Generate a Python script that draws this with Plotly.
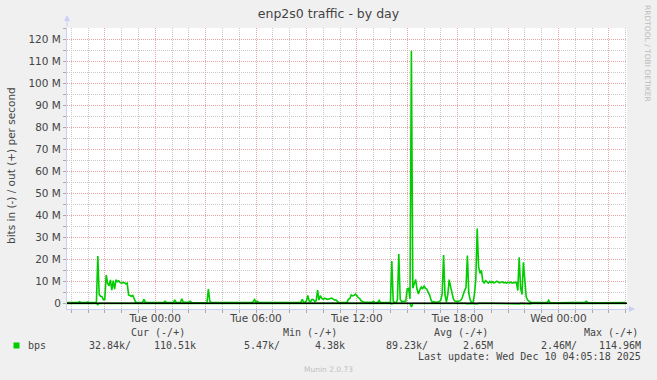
import plotly.graph_objects as go

# ---------------- data ----------------
out_times = [
    "2025-12-08 18:45", "2025-12-08 18:55", "2025-12-08 19:10", "2025-12-08 19:25", "2025-12-08 19:30",
    "2025-12-08 19:35", "2025-12-08 19:50", "2025-12-08 19:55", "2025-12-08 20:00", "2025-12-08 20:05",
    "2025-12-08 20:25", "2025-12-08 20:30", "2025-12-08 20:35", "2025-12-08 20:40", "2025-12-08 20:45",
    "2025-12-08 20:50", "2025-12-08 20:55", "2025-12-08 21:00", "2025-12-08 21:05", "2025-12-08 21:10",
    "2025-12-08 21:15", "2025-12-08 21:20", "2025-12-08 21:25", "2025-12-08 21:30", "2025-12-08 21:35",
    "2025-12-08 21:40", "2025-12-08 21:45", "2025-12-08 21:50", "2025-12-08 21:55", "2025-12-08 22:00",
    "2025-12-08 22:05", "2025-12-08 22:10", "2025-12-08 22:15", "2025-12-08 22:20", "2025-12-08 22:25",
    "2025-12-08 22:30", "2025-12-08 22:35", "2025-12-08 22:40", "2025-12-08 22:45", "2025-12-08 22:50",
    "2025-12-08 22:55", "2025-12-08 23:10", "2025-12-08 23:15", "2025-12-08 23:20", "2025-12-08 23:25",
    "2025-12-08 23:40",
    "2025-12-09 00:00", "2025-12-09 00:20", "2025-12-09 00:30", "2025-12-09 00:35", "2025-12-09 00:40",
    "2025-12-09 00:55", "2025-12-09 01:05", "2025-12-09 01:10", "2025-12-09 01:15", "2025-12-09 01:30",
    "2025-12-09 01:35", "2025-12-09 01:40", "2025-12-09 01:50", "2025-12-09 02:00", "2025-12-09 02:05",
    "2025-12-09 02:10", "2025-12-09 02:45", "2025-12-09 03:00", "2025-12-09 03:05", "2025-12-09 03:10",
    "2025-12-09 03:15", "2025-12-09 03:20", "2025-12-09 04:00", "2025-12-09 04:30", "2025-12-09 05:00",
    "2025-12-09 05:30", "2025-12-09 05:45", "2025-12-09 05:50", "2025-12-09 05:55", "2025-12-09 06:00",
    "2025-12-09 06:05", "2025-12-09 06:10", "2025-12-09 06:45", "2025-12-09 07:30", "2025-12-09 08:15",
    "2025-12-09 08:35", "2025-12-09 08:40", "2025-12-09 08:45", "2025-12-09 08:50", "2025-12-09 08:55",
    "2025-12-09 09:00", "2025-12-09 09:05", "2025-12-09 09:10", "2025-12-09 09:15", "2025-12-09 09:20",
    "2025-12-09 09:25", "2025-12-09 09:30", "2025-12-09 09:35", "2025-12-09 09:40", "2025-12-09 09:45",
    "2025-12-09 09:50", "2025-12-09 09:55", "2025-12-09 10:00", "2025-12-09 10:05", "2025-12-09 10:10",
    "2025-12-09 10:15", "2025-12-09 10:20", "2025-12-09 10:30", "2025-12-09 10:35", "2025-12-09 10:40",
    "2025-12-09 10:45", "2025-12-09 10:50", "2025-12-09 10:55", "2025-12-09 11:15", "2025-12-09 11:25",
    "2025-12-09 11:30", "2025-12-09 11:35", "2025-12-09 11:40", "2025-12-09 11:45", "2025-12-09 11:50",
    "2025-12-09 11:55", "2025-12-09 12:00", "2025-12-09 12:05", "2025-12-09 12:10", "2025-12-09 12:15",
    "2025-12-09 12:25", "2025-12-09 12:40", "2025-12-09 12:55", "2025-12-09 13:00", "2025-12-09 13:05",
    "2025-12-09 13:15", "2025-12-09 13:20", "2025-12-09 13:25", "2025-12-09 13:45", "2025-12-09 13:50",
    "2025-12-09 13:55", "2025-12-09 14:00", "2025-12-09 14:05", "2025-12-09 14:10", "2025-12-09 14:15",
    "2025-12-09 14:20", "2025-12-09 14:25", "2025-12-09 14:30", "2025-12-09 14:35", "2025-12-09 14:40",
    "2025-12-09 14:45", "2025-12-09 14:50", "2025-12-09 14:55", "2025-12-09 15:00", "2025-12-09 15:05",
    "2025-12-09 15:10", "2025-12-09 15:15", "2025-12-09 15:20", "2025-12-09 15:25", "2025-12-09 15:30",
    "2025-12-09 15:35", "2025-12-09 15:40", "2025-12-09 15:45", "2025-12-09 15:50", "2025-12-09 15:55",
    "2025-12-09 16:00", "2025-12-09 16:05", "2025-12-09 16:10", "2025-12-09 16:15", "2025-12-09 16:20",
    "2025-12-09 16:25", "2025-12-09 16:30", "2025-12-09 16:35", "2025-12-09 16:40", "2025-12-09 16:45",
    "2025-12-09 16:50", "2025-12-09 16:55", "2025-12-09 17:00", "2025-12-09 17:05", "2025-12-09 17:10",
    "2025-12-09 17:15", "2025-12-09 17:20", "2025-12-09 17:25", "2025-12-09 17:30", "2025-12-09 17:35",
    "2025-12-09 17:40", "2025-12-09 17:45", "2025-12-09 17:50", "2025-12-09 17:55", "2025-12-09 18:00",
    "2025-12-09 18:05", "2025-12-09 18:10", "2025-12-09 18:15", "2025-12-09 18:20", "2025-12-09 18:25",
    "2025-12-09 18:30", "2025-12-09 18:35", "2025-12-09 18:40", "2025-12-09 18:45", "2025-12-09 18:50",
    "2025-12-09 18:55", "2025-12-09 19:00", "2025-12-09 19:05", "2025-12-09 19:10", "2025-12-09 19:15",
    "2025-12-09 19:20", "2025-12-09 19:25", "2025-12-09 19:30", "2025-12-09 19:35", "2025-12-09 19:40",
    "2025-12-09 19:45", "2025-12-09 19:50", "2025-12-09 19:55", "2025-12-09 20:00", "2025-12-09 20:05",
    "2025-12-09 20:10", "2025-12-09 20:15", "2025-12-09 20:20", "2025-12-09 20:25", "2025-12-09 20:30",
    "2025-12-09 20:35", "2025-12-09 20:40", "2025-12-09 20:45", "2025-12-09 20:50", "2025-12-09 20:55",
    "2025-12-09 21:00", "2025-12-09 21:05", "2025-12-09 21:10", "2025-12-09 21:15", "2025-12-09 21:20",
    "2025-12-09 21:25", "2025-12-09 21:30", "2025-12-09 21:35", "2025-12-09 21:40", "2025-12-09 21:45",
    "2025-12-09 21:50", "2025-12-09 21:55", "2025-12-09 22:00", "2025-12-09 22:05", "2025-12-09 22:10",
    "2025-12-09 22:15", "2025-12-09 22:20", "2025-12-09 22:30", "2025-12-09 22:45", "2025-12-09 23:00",
    "2025-12-09 23:20", "2025-12-09 23:25", "2025-12-09 23:30",
    "2025-12-10 00:00", "2025-12-10 00:30", "2025-12-10 01:00", "2025-12-10 01:30", "2025-12-10 01:35",
    "2025-12-10 01:40", "2025-12-10 01:45", "2025-12-10 02:30", "2025-12-10 03:00", "2025-12-10 03:30",
    "2025-12-10 04:00",
]
out_mbps = [
    0.3, 0.25, 0.3, 0.3, 0.7,
    0.3, 0.3, 0.5, 0.6, 0.3,
    0.3, 0.3, 21.5, 4.0, 3.2,
    3.0, 1.6, 1.8, 12.9, 9.1,
    8.0, 10.7, 6.0, 10.3, 6.5,
    10.7, 9.8, 10.2, 9.4, 9.2,
    9.5, 9.4, 8.9, 9.2, 3.8,
    3.6, 3.2, 3.6, 2.0, 0.6,
    0.4, 0.3, 0.5, 1.8, 0.4,
    0.3,
    0.2, 0.25, 0.3, 0.9, 0.4,
    0.3, 0.4, 1.6, 0.4, 0.5,
    2.0, 0.6, 0.4, 0.5, 0.9,
    0.3, 0.25, 0.3, 0.4, 6.5,
    1.0, 0.3, 0.25, 0.3, 0.25,
    0.3, 0.3, 0.8, 1.7, 0.4,
    0.9, 0.3, 0.3, 0.25, 0.3,
    0.3, 0.4, 1.8, 0.6, 0.5,
    1.0, 3.6, 1.0, 0.7, 1.8,
    1.6, 0.8, 1.2, 6.0, 1.5,
    3.5, 2.2, 1.8, 2.3, 2.0,
    1.8, 2.0, 2.4, 2.0, 1.5,
    1.6, 0.8, 0.4, 0.3, 0.5,
    1.8, 2.2, 3.8, 3.4, 3.6,
    4.2, 3.5, 2.6, 2.3, 1.2,
    0.5, 0.4, 0.5, 0.8, 0.3,
    0.5, 1.3, 0.3, 0.4, 0.6,
    0.3, 0.2, 19.2, 1.0, 0.4,
    0.3, 1.5, 22.4, 1.8, 0.8,
    0.9, 1.2, 1.0, 6.6, 6.8,
    2.0, 115.0, 6.8, 9.0, 10.9,
    6.5, 4.2, 6.2, 7.4, 6.5,
    8.0, 6.8, 6.5, 5.0, 3.9,
    1.5, 0.5, 0.8, 0.5, 0.6,
    0.5, 0.8, 1.5, 4.4, 22.0,
    3.8, 0.6, 4.0, 10.8, 7.6,
    4.0, 2.0, 1.0, 0.8, 0.8,
    1.0, 1.2, 2.0, 4.5, 5.8,
    7.2, 21.8, 4.5, 1.5, 0.4,
    0.2, 4.0, 10.8, 34.0, 16.7,
    13.6, 15.0, 10.0, 9.3, 10.3,
    9.6, 9.2, 10.0, 9.4, 9.8,
    9.2, 9.6, 10.1, 9.7, 9.3,
    9.6, 9.8, 9.3, 9.5, 9.2,
    9.6, 9.3, 9.6, 9.2, 9.5,
    9.4, 9.5, 5.8, 21.0, 7.0,
    4.0, 18.7, 8.0, 3.0, 1.5,
    0.8, 0.5, 0.4, 0.3, 0.3,
    0.3, 1.4, 0.3,
    0.25, 0.3, 0.25, 0.3, 0.5,
    0.9, 0.3, 0.25, 0.3, 0.25,
    0.3,
]

in_times = [
    "2025-12-08 18:45", "2025-12-08 20:30", "2025-12-08 20:35", "2025-12-08 20:40",
    "2025-12-09 14:00", "2025-12-09 14:05", "2025-12-09 14:10", "2025-12-09 15:10",
    "2025-12-09 15:15", "2025-12-09 15:20", "2025-12-09 18:30", "2025-12-09 18:35",
    "2025-12-09 18:40", "2025-12-09 18:55", "2025-12-09 19:00", "2025-12-09 19:10",
    "2025-12-09 19:15", "2025-12-09 20:00", "2025-12-09 20:05", "2025-12-09 21:40",
    "2025-12-09 21:45", "2025-12-09 22:20", "2025-12-09 22:25", "2025-12-10 04:00",
]
in_mbps = [
    0.04, 0.04, 0.6, 0.04,
    0.04, 0.3, 0.04, 0.1,
    1.6, 0.1, 0.05, 0.3,
    0.05, 0.3, 0.05, 0.3,
    0.05, 0.3, 0.05, 0.3,
    0.05, 0.3, 0.05, 0.04,
]

x_range = ["2025-12-08 18:45", "2025-12-10 04:05"]
x_major = ["2025-12-08 21:00", "2025-12-09 00:00", "2025-12-09 03:00", "2025-12-09 06:00",
           "2025-12-09 09:00", "2025-12-09 12:00", "2025-12-09 15:00", "2025-12-09 18:00",
           "2025-12-09 21:00", "2025-12-10 00:00", "2025-12-10 03:00"]
x_labels = ["", "Tue 00:00", "", "Tue 06:00", "", "Tue 12:00", "", "Tue 18:00", "", "Wed 00:00", ""]

y_ticks = [0, 10, 20, 30, 40, 50, 60, 70, 80, 90, 100, 110, 120]
y_labels = ["0"] + [f"{v} M" for v in y_ticks[1:]]

legend_headers = ["Cur (-/+)", "Min (-/+)", "Avg (-/+)", "Max (-/+)"]
legend_values = ["32.84k/", "110.51k", "5.47k/", "4.38k", "89.23k/", "2.65M", "2.46M/", "114.96M"]
series_name = "bps"
last_update = "Last update: Wed Dec 10 04:05:18 2025"
footer = "Munin 2.0.73"
side_text = "RRDTOOL / TOBI OETIKER"
title = "enp2s0 traffic - by day"
y_title = "bits in (-) / out (+) per second"

# ---------------- layout geometry ----------------
W, H = 657, 380
L, R, T, B = 67, 30, 28, 71
PW, PH = W - L - R, H - T - B
GREEN = "#00CC00"
TXT = "#444444"


def px(x):
    return (x - L) / PW


def py(y):
    return (H - B - y) / PH


M = 1e6
fig = go.Figure()
fig.add_trace(go.Scatter(x=in_times, y=[-v * M for v in in_mbps], mode="lines",
                         line=dict(color=GREEN, width=1.6), hoverinfo="skip"))
fig.add_trace(go.Scatter(x=out_times, y=[v * M for v in out_mbps], mode="lines",
                         line=dict(color=GREEN, width=1.6), hoverinfo="skip"))

AXIS_C = "#C9D0F4"
MAJ = "#EBA5A5"
MIN = "#C8C8C8"

fig.update_xaxes(
    type="date", range=x_range, tickmode="array", tickvals=x_major, ticktext=x_labels,
    showgrid=True, gridcolor=MAJ, griddash="1px,1px", gridwidth=1,
    showline=True, linecolor=AXIS_C, linewidth=1, zeroline=False,
    ticks="outside", ticklen=3, tickcolor="#AAAAAA", ticklabelstandoff=-4,
    tickfont=dict(family="DejaVu Sans", size=10.5, color=TXT),
    minor=dict(tick0="2025-12-09 00:00", dtick=3600000, showgrid=True, gridcolor=MIN,
               griddash="1px,1px", gridwidth=1, ticks="outside", ticklen=3, tickcolor="#AAAAAA"),
)
fig.update_yaxes(
    range=[-2.59 * M, 125.33 * M], tickmode="array", tickvals=[v * M for v in y_ticks], ticktext=y_labels,
    showgrid=True, gridcolor=MAJ, griddash="1px,1px", gridwidth=1,
    showline=True, linecolor=AXIS_C, linewidth=1, zeroline=False,
    ticks="outside", ticklen=3, tickcolor="#AAAAAA",
    tickfont=dict(family="DejaVu Sans", size=10.5, color=TXT),
    minor=dict(tick0=0, dtick=5 * M, showgrid=True, gridcolor=MIN, griddash="1px,1px",
               gridwidth=1, ticks="outside", ticklen=3, tickcolor="#AAAAAA"),
)

shapes = [
    dict(type="line", xref="paper", yref="y", x0=0, x1=1, y0=0, y1=0,
         line=dict(color="black", width=1.5), layer="above"),
    dict(type="rect", xref="paper", yref="paper", x0=px(13.5), x1=px(19.5), y0=py(348.5), y1=py(342.5),
         fillcolor=GREEN, line=dict(width=0)),
]

mono = dict(family="DejaVu Sans Mono", size=10, color=TXT)
ann = []


def add_text(text, x, y, font, xanchor="left", **kw):
    ann.append(dict(text=text, x=px(x), y=py(y), xref="paper", yref="paper", showarrow=False,
                    xanchor=xanchor, yanchor="middle", font=font, **kw))


for h, x0 in zip(legend_headers, [129, 281, 432, 582]):
    add_text(h, x0, 332, mono)
add_text(series_name, 26, 345.5, mono)
for v, x1 in zip(legend_values, [133, 198, 281.5, 347, 430, 495, 578.5, 643]):
    add_text(v, x1, 345.5, mono, xanchor="right")
add_text(last_update, 643, 357, mono, xanchor="right")
add_text(footer, 328, 369, dict(family="DejaVu Sans", size=7.5, color="#C0C0C0"), xanchor="center")
add_text(side_text, 648, 53, dict(family="DejaVu Sans", size=7.5, color="#BBBBBB"),
         xanchor="center", textangle=90)
add_text(y_title, 11, 166, dict(family="DejaVu Sans", size=10.5, color=TXT),
         xanchor="center", textangle=-90)

# axis arrows
ann.append(dict(x=px(L), y=py(15), xref="paper", yref="paper", ax=0, ay=13, text="",
                showarrow=True, arrowhead=2, arrowsize=1.2, arrowwidth=1, arrowcolor=AXIS_C))
ann.append(dict(x=px(635), y=py(H - B), xref="paper", yref="paper", ax=-10, ay=0, text="",
                showarrow=True, arrowhead=2, arrowsize=1.2, arrowwidth=1, arrowcolor=AXIS_C))

fig.update_layout(
    width=W, height=H, autosize=False,
    margin=dict(l=L, r=R, t=T, b=B, pad=0),
    paper_bgcolor="#F0F0F0", plot_bgcolor="#FFFFFF",
    showlegend=False,
    title=dict(text=title, x=0.5, xref="container", xanchor="center",
               y=1 - 14 / H, yref="container", yanchor="middle",
               font=dict(family="DejaVu Sans", size=12.5, color=TXT)),
    shapes=shapes, annotations=ann,
)

fig.write_html("out.html")
